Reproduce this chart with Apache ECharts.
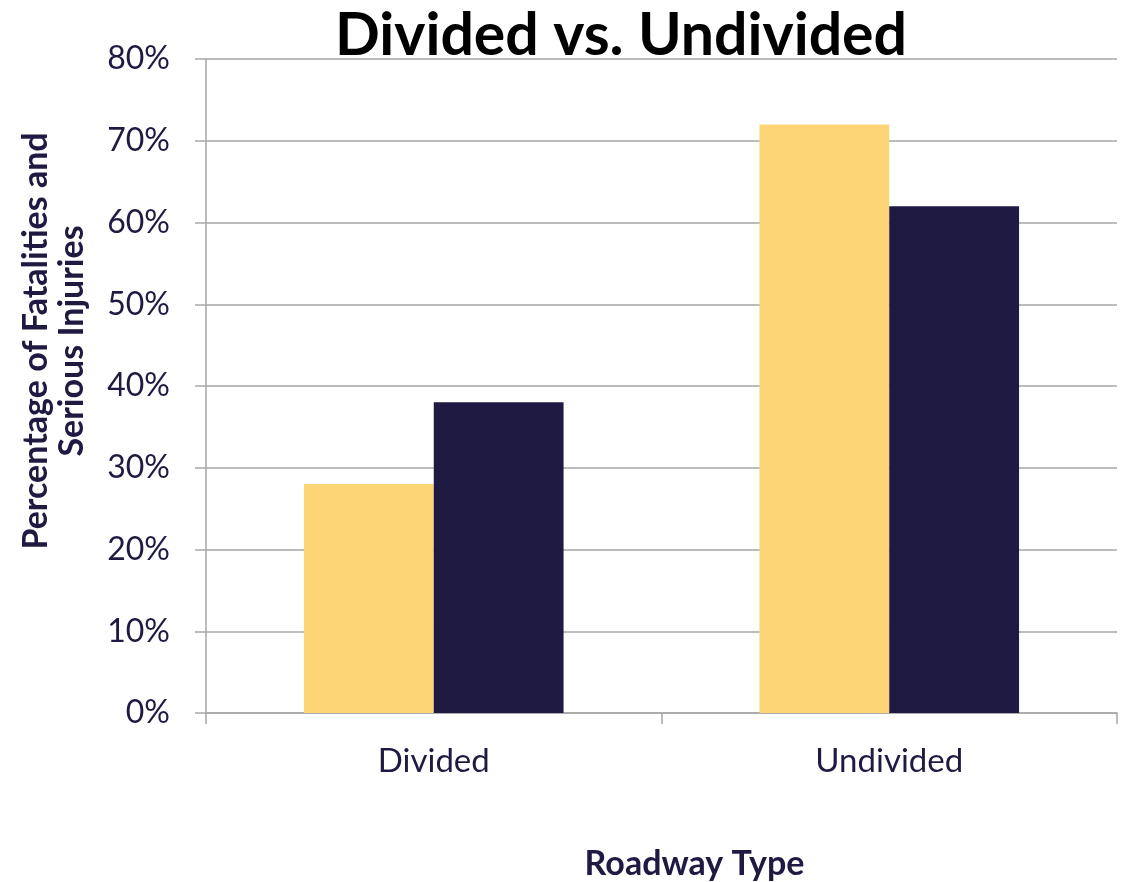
<!DOCTYPE html>
<html>
<head>
<meta charset="utf-8">
<script src="https://cdn.jsdelivr.net/npm/echarts@6/dist/echarts.min.js"></script>
<style>
html,body{margin:0;padding:0;background:#fff;}
#chart{width:1127px;height:882px;}
</style>
</head>
<body>
<div id="chart"></div>
<script>
const categories = ["Divided", "Undivided"];
const seriesA = [28, 72];
const seriesB = [38, 62];
const yTicks = [0, 10, 20, 30, 40, 50, 60, 70, 80];

const textColor = '#1F1A42';
const gridColor = '#A6A6A6';
const font = 'Lato, "Open Sans", sans-serif';

const chart = echarts.init(document.getElementById('chart'));
chart.setOption({
  animation: false,
  backgroundColor: '#fff',
  title: {
    text: 'Divided vs. Undivided',
    left: 616, top: 1, textAlign: 'center',
    textStyle: {fontFamily: font, fontWeight: 'bold', fontSize: 59, color: '#000'}
  },
  grid: {left: 206, right: 10, top: 59, bottom: 169, containLabel: false, outerBoundsMode: 'none'},
  xAxis: {
    type: 'category',
    data: categories,
    name: 'Roadway Type',
    nameLocation: 'middle',
    nameGap: 134,
    nameTextStyle: {fontFamily: font, fontWeight: 'bold', fontSize: 34, color: textColor, padding: [0,0,0,66]},
    axisLine: {show: true, lineStyle: {color: gridColor, width: 1.5}},
    axisTick: {show: true, length: 11, lineStyle: {color: gridColor, width: 1.5}, alignWithLabel: false},
    axisLabel: {fontFamily: font, fontSize: 33, color: textColor, margin: 32}
  },
  yAxis: {
    type: 'value',
    min: 0, max: 80, interval: 10,
    name: 'Percentage of Fatalities and\nSerious Injuries',
    nameLocation: 'middle',
    nameGap: 116,
    nameRotate: 90,
    nameTextStyle: {fontFamily: font, fontWeight: 'bold', fontSize: 34, color: textColor, lineHeight: 36, align: 'center', padding: [0,0,0,90]},
    axisLine: {show: true, lineStyle: {color: gridColor, width: 1.5}},
    axisTick: {show: true, length: 11, lineStyle: {color: gridColor, width: 1.5}},
    splitLine: {show: true, lineStyle: {color: gridColor, width: 1.5}},
    axisLabel: {fontFamily: font, fontSize: 32, color: textColor, margin: 36,
      formatter: v => yTicks.includes(v) ? v + '%' : ''}
  },
  series: [
    {type: 'bar', data: seriesA, barWidth: '28.5%', barGap: '0%', itemStyle: {color: '#FDD577'}},
    {type: 'bar', data: seriesB, barWidth: '28.5%', barGap: '0%', itemStyle: {color: '#1F1A42'}}
  ]
});
</script>
</body>
</html>
